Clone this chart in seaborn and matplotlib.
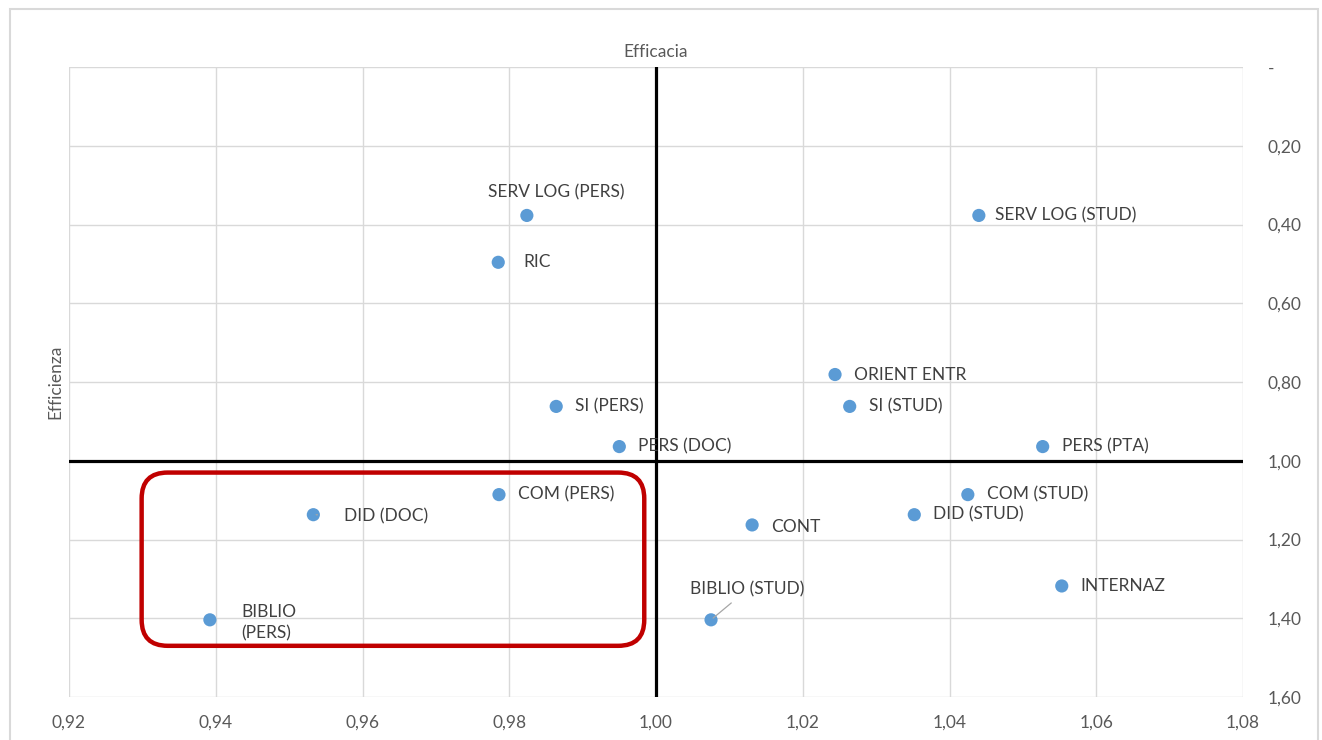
import matplotlib
matplotlib.use("Agg")
import matplotlib.pyplot as plt
import seaborn as sns
import pandas as pd
from matplotlib.patches import FancyBboxPatch, Rectangle

# ---------------- data ----------------
labels = ["SERV LOG (PERS)", "RIC", "SI (PERS)", "PERS (DOC)", "ORIENT ENTR",
          "SI (STUD)", "PERS (PTA)", "SERV LOG (STUD)", "COM (STUD)", "DID (STUD)",
          "CONT", "INTERNAZ", "BIBLIO (STUD)", "COM (PERS)", "DID (DOC)",
          "BIBLIO\n(PERS)"]
efficacia = [0.9824, 0.9785, 0.9864, 0.9950, 1.0244,
             1.0264, 1.0527, 1.0440, 1.0425, 1.0352,
             1.0131, 1.0553, 1.0075, 0.9786, 0.9533,
             0.9392]
efficienza = [0.377, 0.496, 0.862, 0.964, 0.781,
              0.862, 0.964, 0.377, 1.086, 1.137,
              1.163, 1.318, 1.404, 1.086, 1.137,
              1.404]
x_ticks = [0.92, 0.94, 0.96, 0.98, 1.00, 1.02, 1.04, 1.06, 1.08]
y_ticks = [0.0, 0.2, 0.4, 0.6, 0.8, 1.0, 1.2, 1.4, 1.6]
x_tick_labels = ["0,92", "0,94", "0,96", "0,98", "1,00", "1,02", "1,04", "1,06", "1,08"]
y_tick_labels = ["-", "0,20", "0,40", "0,60", "0,80", "1,00", "1,20", "1,40", "1,60"]
highlight_x = [0.9299, 0.9984]
highlight_y = [1.030, 1.470]

# ---------------- style (label offsets in pixels) ----------------
label_style = {
    "SERV LOG (PERS)": dict(dx=29, dy=23, ha="center", leader=False),
    "BIBLIO (STUD)": dict(dx=36, dy=30, ha="center", leader=True),
    "DID (DOC)": dict(dx=31, dy=-2, ha="left", leader=True),
    "BIBLIO\n(PERS)": dict(dx=31, dy=-3, ha="left", leader=False),
    "CONT": dict(dx=19, dy=-2, ha="left", leader=False),
    "RIC": dict(dx=25, dy=0, ha="left", leader=False),
    "SERV LOG (STUD)": dict(dx=16, dy=0, ha="left", leader=False),
}
default_style = dict(dx=19, dy=0, ha="left", leader=False)

sns.set_theme(style="white")
FONT = ["Lato", "DejaVu Sans"]
plt.rcParams["font.family"] = FONT

W, H = 1322, 740
fig = plt.figure(figsize=(W / 100, H / 100), dpi=100)
fig.patch.set_facecolor("white")
ax = fig.add_axes([69 / W, 1 - 697 / H, (1243 - 69) / W, (697 - 67) / H])

# outer chart border
fig.add_artist(Rectangle((10 / W, -0.05), (1318 - 10) / W, 1 - 9 / H + 0.05,
                         transform=fig.transFigure, fill=False,
                         edgecolor="#d9d9d9", linewidth=1.5))

df = pd.DataFrame({"Efficacia": efficacia, "Efficienza": efficienza, "label": labels})

ax.set_xlim(x_ticks[0], x_ticks[-1])
ax.set_ylim(y_ticks[-1], y_ticks[0])
ax.set_xticks(x_ticks)
ax.set_xticklabels(x_tick_labels)
ax.set_yticks(y_ticks)
ax.set_yticklabels(y_tick_labels)
ax.yaxis.tick_right()
ax.tick_params(axis="x", length=0, pad=13, labelsize=12.5, labelcolor="#595959")
ax.tick_params(axis="y", length=0, pad=18, labelsize=12.5, labelcolor="#595959")
for lab in ax.get_yticklabels():
    lab.set_horizontalalignment("left")
ax.grid(True, color="#d9d9d9", linewidth=1)
for s in ax.spines.values():
    s.set_visible(False)

ax.axvline(1.0, color="black", linewidth=2.3, zorder=2)
ax.axhline(1.0, color="black", linewidth=2.3, zorder=2)

sns.scatterplot(data=df, x="Efficacia", y="Efficienza", ax=ax, color="#5b9bd5",
                s=90, edgecolor="none", linewidth=0, zorder=4, legend=False)
ax.set_xlabel("")
ax.set_ylabel("")

for lab, xv, yv in zip(labels, efficacia, efficienza):
    st = label_style.get(lab, default_style)
    kw = {}
    if st["leader"]:
        kw["arrowprops"] = dict(arrowstyle="-", color="#a6a6a6", lw=0.9,
                                shrinkA=2 if lab == "BIBLIO (STUD)" else 17, shrinkB=2)
    ax.annotate(lab, (xv, yv), xytext=(st["dx"], st["dy"]), textcoords="offset pixels",
                ha=st["ha"], va="center", fontsize=12.5, color="#404040",
                linespacing=1.45, zorder=5, **kw)

# axis titles
fig.text(656 / W, 1 - 52 / H, "Efficacia", ha="center", va="center",
         fontsize=12.5, color="#595959")
fig.text(55 / W, 1 - 382 / H, "Efficienza", ha="center", va="center",
         rotation=90, fontsize=12.5, color="#595959")

# highlight rounded box (defined in data units, drawn in display units)
fig.canvas.draw()
(x0, y0) = ax.transData.transform((highlight_x[0], highlight_y[1]))
(x1, y1) = ax.transData.transform((highlight_x[1], highlight_y[0]))
box = FancyBboxPatch((x0, y0), x1 - x0, y1 - y0,
                     boxstyle="round,pad=0,rounding_size=26",
                     transform=None, fill=False, edgecolor="#c00000",
                     linewidth=3.2, zorder=6)
fig.add_artist(box)

fig.savefig("out.png", dpi=100, facecolor="white")
